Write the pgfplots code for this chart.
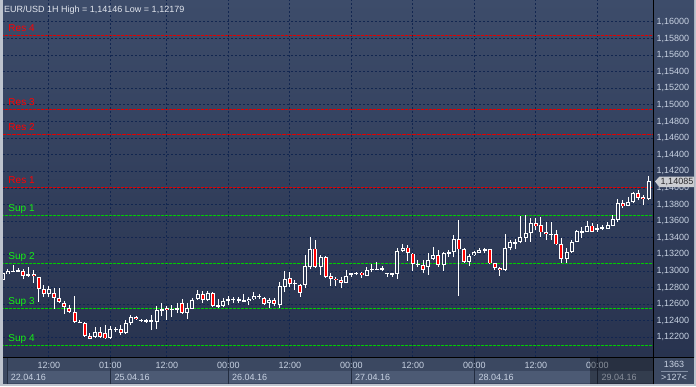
\documentclass[border=0pt]{standalone}
\usepackage{fontspec}
\setmainfont{Liberation Sans}
\usepackage{pgfplots}
\usepackage{pgfplotstable}
\pgfplotsset{compat=1.18}
\definecolor{bgtop}{RGB}{61,76,106}
\definecolor{bgbot}{RGB}{40,51,79}
\definecolor{bginner}{RGB}{45,57,85}
\definecolor{gridcol}{RGB}{18,38,80}
\definecolor{framec}{RGB}{190,196,206}
\definecolor{band}{RGB}{59,72,97}
\definecolor{datebox}{RGB}{76,90,116}
\definecolor{sepc}{RGB}{34,44,64}
\definecolor{ticktext}{RGB}{200,210,226}
\definecolor{resred}{RGB}{225,0,0}
\definecolor{restext}{RGB}{255,0,0}
\definecolor{supgreen}{RGB}{0,205,0}
\definecolor{suptext}{RGB}{20,240,20}
\definecolor{candred}{RGB}{255,0,0}
\definecolor{titlec}{RGB}{226,230,238}
\definecolor{tagc}{RGB}{204,206,210}
\definecolor{tagtext}{RGB}{40,40,44}
\definecolor{sepline}{RGB}{130,142,164}
\newcommand{\ninebp}{\fontsize{9bp}{11bp}\selectfont}
\newcommand{\tenbp}{\fontsize{10bp}{12bp}\selectfont}

\pgfplotstableread{
i o h l c
0 1.12892 1.12988 1.12880 1.12976
1 1.12964 1.13024 1.12958 1.13000
2 1.12994 1.13072 1.12988 1.13006
3 1.13000 1.13036 1.12994 1.13006
5 1.12940 1.13048 1.12928 1.12964
9 1.12723 1.12819 1.12687 1.12783
18 1.12205 1.12325 1.12193 1.12265
21 1.12187 1.12337 1.12181 1.12301
22 1.12301 1.12325 1.12265 1.12302
24 1.12253 1.12410 1.12241 1.12374
25 1.12374 1.12470 1.12349 1.12446
27 1.12398 1.12422 1.12386 1.12410
28 1.12398 1.12422 1.12374 1.12399
29 1.12398 1.12470 1.12289 1.12400
30 1.12386 1.12578 1.12301 1.12530
31 1.12530 1.12615 1.12458 1.12542
33 1.12536 1.12590 1.12446 1.12542
34 1.12542 1.12615 1.12494 1.12554
36 1.12494 1.12615 1.12422 1.12554
37 1.12548 1.12675 1.12542 1.12657
38 1.12663 1.12771 1.12651 1.12723
40 1.12651 1.12759 1.12639 1.12735
43 1.12578 1.12675 1.12566 1.12639
44 1.12639 1.12699 1.12590 1.12657
45 1.12657 1.12690 1.12618 1.12663
46 1.12651 1.12690 1.12615 1.12652
47 1.12639 1.12723 1.12627 1.12645
48 1.12633 1.12687 1.12590 1.12663
49 1.12663 1.12747 1.12651 1.12699
50 1.12699 1.12723 1.12663 1.12700
52 1.12615 1.12675 1.12554 1.12651
54 1.12590 1.12867 1.12554 1.12819
55 1.12813 1.13000 1.12747 1.12910
57 1.12849 1.12892 1.12771 1.12855
59 1.12831 1.13193 1.12795 1.13060
60 1.13054 1.13410 1.13024 1.13271
62 1.13048 1.13193 1.12952 1.13169
67 1.12861 1.13012 1.12855 1.12940
68 1.12964 1.12980 1.12931 1.12965
69 1.12964 1.12988 1.12952 1.12982
71 1.12946 1.13048 1.12940 1.13018
72 1.13018 1.13090 1.12988 1.13021
73 1.13021 1.13108 1.13012 1.13024
74 1.13030 1.13060 1.13000 1.13031
75 1.12970 1.12982 1.12931 1.12976
76 1.12964 1.12980 1.12931 1.12965
77 1.12964 1.13277 1.12904 1.13245
78 1.13241 1.13325 1.13229 1.13283
81 1.13084 1.13132 1.13048 1.13085
83 1.13048 1.13221 1.12952 1.13138
84 1.13141 1.13289 1.13132 1.13193
86 1.13072 1.13233 1.13004 1.13213
87 1.13205 1.13253 1.13172 1.13229
88 1.13233 1.13434 1.13165 1.13382
91 1.13112 1.13205 1.13060 1.13181
92 1.13193 1.13241 1.13181 1.13229
93 1.13223 1.13273 1.13217 1.13259
94 1.13259 1.13273 1.13221 1.13260
98 1.13012 1.13442 1.13000 1.13281
99 1.13273 1.13374 1.13253 1.13353
100 1.13341 1.13386 1.13265 1.13342
101 1.13346 1.13666 1.13334 1.13410
102 1.13401 1.13675 1.13353 1.13454
103 1.13454 1.13642 1.13353 1.13575
110 1.13145 1.13277 1.13100 1.13225
111 1.13225 1.13374 1.13217 1.13353
112 1.13353 1.13494 1.13349 1.13482
113 1.13470 1.13534 1.13401 1.13482
114 1.13474 1.13602 1.13470 1.13546
116 1.13512 1.13563 1.13474 1.13514
117 1.13518 1.13554 1.13494 1.13522
118 1.13506 1.13594 1.13506 1.13554
119 1.13546 1.13675 1.13542 1.13626
120 1.13614 1.13867 1.13594 1.13816
122 1.13787 1.13895 1.13783 1.13835
123 1.13828 1.13946 1.13819 1.13936
126 1.13864 1.14146 1.13855 1.14085
}\bull

\pgfplotstableread{
i o h l c
4 1.13000 1.13024 1.12904 1.12940
6 1.12964 1.13012 1.12855 1.12940
7 1.12928 1.12930 1.12627 1.12783
8 1.12783 1.12831 1.12687 1.12723
10 1.12735 1.12795 1.12542 1.12675
11 1.12675 1.12795 1.12615 1.12627
12 1.12615 1.12639 1.12482 1.12566
13 1.12554 1.12590 1.12494 1.12506
14 1.12506 1.12699 1.12374 1.12386
15 1.12386 1.12410 1.12374 1.12380
16 1.12374 1.12386 1.12205 1.12217
17 1.12217 1.12253 1.12179 1.12187
19 1.12265 1.12325 1.12193 1.12205
20 1.12253 1.12349 1.12181 1.12187
23 1.12301 1.12349 1.12229 1.12253
26 1.12446 1.12458 1.12410 1.12422
32 1.12554 1.12578 1.12410 1.12530
35 1.12615 1.12663 1.12482 1.12494
39 1.12723 1.12759 1.12615 1.12651
41 1.12735 1.12747 1.12566 1.12578
42 1.12584 1.12663 1.12554 1.12578
51 1.12675 1.12690 1.12590 1.12603
53 1.12651 1.12675 1.12578 1.12603
56 1.12916 1.12988 1.12807 1.12843
58 1.12831 1.12843 1.12687 1.12735
61 1.13271 1.13374 1.13036 1.13048
63 1.13169 1.13181 1.12916 1.12934
64 1.12940 1.12970 1.12819 1.12910
65 1.12910 1.12928 1.12819 1.12892
66 1.12892 1.12928 1.12795 1.12861
70 1.12982 1.12988 1.12919 1.12946
79 1.13283 1.13313 1.13124 1.13217
80 1.13211 1.13217 1.13004 1.13084
82 1.13072 1.13138 1.12976 1.13012
85 1.13193 1.13253 1.13052 1.13072
89 1.13382 1.13620 1.12699 1.13261
90 1.13261 1.13277 1.13096 1.13112
95 1.13261 1.13271 1.13084 1.13093
96 1.13093 1.13102 1.13012 1.13036
97 1.13036 1.13052 1.12940 1.13012
104 1.13575 1.13635 1.13494 1.13546
105 1.13554 1.13647 1.13413 1.13466
106 1.13466 1.13587 1.13374 1.13442
107 1.13442 1.13587 1.13374 1.13440
108 1.13442 1.13494 1.13313 1.13322
109 1.13322 1.13394 1.13100 1.13145
115 1.13546 1.13575 1.13470 1.13474
121 1.13816 1.13855 1.13755 1.13787
124 1.13936 1.13976 1.13855 1.13883
125 1.13892 1.13916 1.13795 1.13864
}\bear

\pgfplotsset{
  wick/.style={draw=none, mark=none, forget plot,
    error bars/.cd, y dir=plus, y explicit, error mark=none,
    error bar style={draw=white, line width=1bp, solid}},
  body/.style={draw=none, mark=none, forget plot,
    error bars/.cd, y dir=both, y explicit, error mark=none,
    error bar style={draw=#1, line width=4bp, solid, line cap=butt}},
  inner/.style={draw=none, mark=none, forget plot,
    error bars/.cd, y dir=both, y explicit, error mark=none,
    error bar style={draw=#1, line width=2bp, solid, line cap=butt}},
  level/.style={forget plot, mark=none, line width=1bp, dash pattern=on 3bp off 1bp, draw=#1},
}

\begin{document}
\begin{tikzpicture}[x=1bp,y=1bp]
\useasboundingbox (0,0) rectangle (696,386);
\fill[framec] (0,0) rectangle (696,386);
\shade[top color=bgtop, bottom color=bgbot] (654,29) rectangle (694,386);
\fill[band] (3,2) rectangle (653,28.5);
\fill[band] (654,2) rectangle (694,28.5);
% date boxes
\foreach \a/\b in {7/110.5,110.5/228.5,228.5/351.5,351.5/474.5,474.5/597.5,597.5/653}{
  \fill[datebox] (\a,2.7) rectangle (\b,15.3);
  \draw[sepc, line width=1bp] (\a,2) -- (\a,28.5);
}

\begin{axis}[
  at={(3bp,29bp)}, anchor=south west,
  width=650bp, height=357bp, scale only axis,
  xmin=0.04, xmax=126.87, ymin=1.11964, ymax=1.16265,
  axis line style={draw=none},
  axis background/.style={top color=bgtop, bottom color=bgbot},
  ytick={1.122,1.124,1.126,1.128,1.130,1.132,1.134,1.136,1.138,1.140,1.142,1.144,1.146,1.148,1.150,1.152,1.154,1.156,1.158,1.160},
  scaled y ticks=false,
  yticklabel pos=right,
  /pgf/number format/fixed,
  /pgf/number format/fixed zerofill,
  /pgf/number format/precision=5,
  /pgf/number format/use comma,
  /pgf/number format/assume math mode=true,
  yticklabel style={font=\ninebp, text=ticktext},
  xtick={9,21,32,44,56,68,80,92,104,116},
  xticklabels={12:00,01:00,12:00,00:00,12:00,00:00,12:00,00:00,12:00,00:00},
  xticklabel style={font=\ninebp, text=ticktext, anchor=center, yshift=-8.7bp},
  major tick length=0,
]
% grid (dark navy, dashed)
\pgfplotsinvokeforeach{1.122,1.124,1.126,1.128,1.130,1.132,1.134,1.136,1.138,1.140,1.142,1.144,1.146,1.148,1.150,1.152,1.154,1.156,1.158,1.160}{
  \draw[draw=gridcol, dash pattern=on 2bp off 2bp, line width=1bp] (axis cs:0.04,#1) -- (axis cs:126.87,#1);
}
\pgfplotsinvokeforeach{9,21,32,44,56,68,80,92,104,116}{
  \draw[draw=gridcol, dash pattern=on 2bp off 2bp, line width=1bp] (axis cs:#1,1.11964) -- (axis cs:#1,1.16265);
}
% support / resistance levels
\addplot[level=resred] coordinates {(-5,1.15843) (135,1.15843)};
\addplot[level=resred] coordinates {(-5,1.14948) (135,1.14948)};
\addplot[level=resred, line width=1.5bp, dash pattern=on 4bp off 1bp] coordinates {(-5,1.14647) (135,1.14647)};
\addplot[level=resred] coordinates {(-5,1.14004) (135,1.14004)};
\addplot[level=supgreen] coordinates {(-5,1.13671) (135,1.13671)};
\addplot[level=supgreen] coordinates {(-5,1.13096) (135,1.13096)};
\addplot[level=supgreen] coordinates {(-5,1.12550) (135,1.12550)};
\addplot[level=supgreen] coordinates {(-5,1.12105) (135,1.12105)};

% wicks
\addplot[wick] table[x=i, y=l, y error plus expr=\thisrow{h}-\thisrow{l}] {\bull};
\addplot[wick] table[x=i, y=l, y error plus expr=\thisrow{h}-\thisrow{l}] {\bear};
% bodies
\addplot[body=white] table[x=i, y expr=(\thisrow{o}+\thisrow{c})/2, y error expr={max(abs(\thisrow{c}-\thisrow{o})/2,0.00006)}] {\bull};
\addplot[body=white] table[x=i, y expr=(\thisrow{o}+\thisrow{c})/2, y error expr={max(abs(\thisrow{c}-\thisrow{o})/2,0.00006)}] {\bear};
\addplot[inner=bginner] table[x=i, y expr=(\thisrow{o}+\thisrow{c})/2, y error expr={max(abs(\thisrow{c}-\thisrow{o})/2-0.00012,0)}] {\bull};
\addplot[inner=candred] table[x=i, y expr=(\thisrow{o}+\thisrow{c})/2, y error expr={max(abs(\thisrow{c}-\thisrow{o})/2-0.000085,0)}] {\bear};

% level labels
\foreach \lab/\val/\col in {Res 4/1.15843/restext, Res 3/1.14948/restext, Res 2/1.14647/restext, Res 1/1.14004/restext, Sup 1/1.13671/suptext, Sup 2/1.13096/suptext, Sup 3/1.12550/suptext, Sup 4/1.12105/suptext}{
  \edef\tmp{\noexpand\node[anchor=base west, inner sep=0, text=\col, font=\noexpand\tenbp, yshift=4bp] at (axis cs:1.07,\val) {\lab};}
  \tmp
}
\end{axis}

% separators
\draw[black, line width=1bp] (653.5,2) -- (653.5,386);
\draw[black, line width=1bp] (3,28.5) -- (694,28.5);
% date labels
\foreach \x/\d in {10.7/22.04.16, 114.3/25.04.16, 232/26.04.16, 355/27.04.16, 478.3/28.04.16, 601.5/29.04.16}{
  \node[anchor=base west, inner sep=0, text=ticktext, font=\ninebp] at (\x,6) {\d};
}
% shaded future area
\fill[black, opacity=0.32] (590,2) rectangle (653,28);
% title
\node[anchor=base west, inner sep=0, text=titlec, font=\ninebp] at (4,374) {EUR/USD 1H High = 1,14146 Low = 1,12179};
% price tag
\fill[tagc] (655,204.5) -- (659.5,209.5) -- (694,209.5) -- (694,199) -- (659.5,199) -- cycle;
\node[text=tagtext, font=\ninebp, inner sep=0] at (677,204.2) {1,14085};
% bottom right info
\node[text=ticktext, font=\ninebp, inner sep=0] at (674,21.5) {1363};
\draw[sepline, line width=0.8bp] (661,14.5) -- (688,14.5);
\node[text=ticktext, font=\ninebp, inner sep=0] at (674,8.5) {>127<};
\end{tikzpicture}
\end{document}
